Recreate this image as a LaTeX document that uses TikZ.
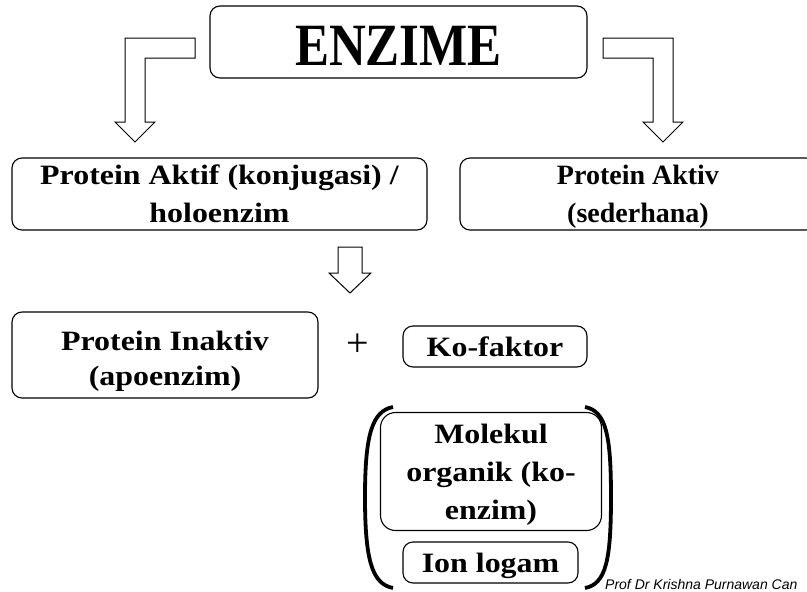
\documentclass[tikz,border=0pt]{standalone}
\usepackage{fontspec}
\setmainfont{Liberation Serif}
\newfontfamily\titlefont{Liberation Serif}[FakeStretch=0.85]
\newfontfamily\boxfont{Liberation Serif}[FakeStretch=1.14]
\newfontfamily\notefont{Liberation Sans}

\begin{document}
\begin{tikzpicture}[x=1pt,y=-1pt,
    box/.style={draw, line width=1.1pt, rounded corners=10pt, inner sep=0pt, align=center,
      text depth=0pt, font={\boxfont\bfseries\fontsize{28}{38}\selectfont}},
    blockarrow/.style={draw, line width=1pt, fill=white, line join=miter},
    bracket/.style={line width=3.8pt}]
    \clip (0,0) rectangle (807,592);

    % Title
    \node[box, minimum width=377pt, minimum height=72pt, text height=46pt,
      font={\titlefont\bfseries\fontsize{60}{60}\selectfont}] (enzime) at (398.5,42) {ENZIME};

    % Elbow arrows from the title
    \draw[blockarrow] (195,38) -- (125,38) -- (125,122) -- (115,122) -- (135,142)
      -- (155,122) -- (145,122) -- (145,58) -- (195,58) -- cycle;
    \draw[blockarrow] (603,38) -- (673,38) -- (673,122) -- (683,122) -- (663,142)
      -- (643,122) -- (653,122) -- (653,58) -- (603,58) -- cycle;

    % Second row
    \node[box, minimum width=415pt, minimum height=72pt] (aktif) at (219.5,194)
      {Protein Aktif (konjugasi) /\\ holoenzim};
    \node[box, minimum width=356pt, minimum height=72pt,
      font={\rmfamily\bfseries\fontsize{28}{38}\selectfont}] (aktiv) at (638,194)
      {Protein Aktiv\\ (sederhana)};

    % Down arrow
    \draw[blockarrow] (338,247) -- (362,247) -- (362,273) -- (371,273) -- (350,293)
      -- (329,273) -- (338,273) -- cycle;

    % Third row
    \node[box, minimum width=306pt, minimum height=86pt, text height=60pt,
      font={\boxfont\bfseries\fontsize{28}{35}\selectfont}] (inaktiv) at (165,355)
      {Protein Inaktiv\\ (apoenzim)};
    \node[font=\fontsize{40}{40}\selectfont, inner sep=0pt] (plus) at (358,345) {+};
    \node[box, minimum width=184pt, minimum height=41pt] (kofaktor) at (495,346.5) {Ko-faktor};

    % Cofactor kinds in brackets
    \node[box, rounded corners=15pt, minimum width=221pt, minimum height=118pt] (organik) at (491,471.5)
      {Molekul\\ organik (ko-\\ enzim)};
    \node[box, minimum width=175pt, minimum height=41pt] (ion) at (490.5,562.5) {Ion logam};
    \draw[bracket] (393,407) .. controls (372,411) and (365,435) .. (365,497)
      .. controls (365,560) and (372,584) .. (393,588);
    \draw[bracket] (585,407) .. controls (606,411) and (611,435) .. (611,497)
      .. controls (611,560) and (606,584) .. (585,588);

    % Credit
    \node[anchor=base west, inner sep=0pt, font={\notefont\itshape\fontsize{14}{14}\selectfont}]
      (credit) at (605,589) {Prof Dr Krishna Purnawan Can};
\end{tikzpicture}
\end{document}
